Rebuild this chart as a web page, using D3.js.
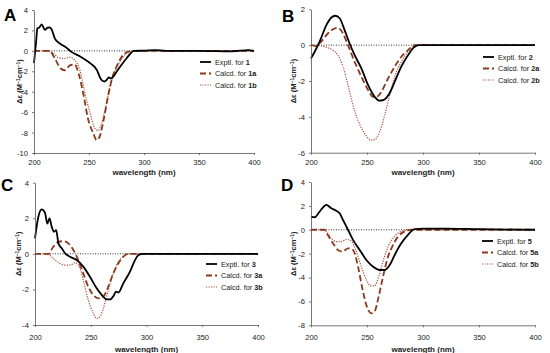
<!DOCTYPE html>
<html>
<head>
<meta charset="utf-8">
<script src="https://cdn.jsdelivr.net/npm/d3@7"></script>
<style>
  body { margin: 0; background: #fff; }
  svg { display: block; font-family: "Liberation Sans", Arial, sans-serif; }
</style>
</head>
<body>
<svg id="canvas" width="550" height="353"></svg>
<script>
// wavelength (nm), delta epsilon
var exptA = [[200,-1.2],[202,1.0],[203,2.2],[205,2.3],[207,2.6],[209,2.2],[210,2.05],[212,2.25],[214,2.3],[216,2.1],[219,1.2],[223,0.75],[229,0.35],[234,-0.1],[242,-0.55],[249,-1.05],[257,-1.85],[261,-2.8],[264,-3.0],[266,-2.85],[268,-2.6],[270,-2.7],[276,-1.9],[284,-0.75],[291,0],[300,0.02],[310,0.08],[320,0],[350,0],[380,-0.05],[395,0.08],[400,0]];
var calcA1a = [[200,0],[214,0],[219,-0.75],[224,-1.7],[228,-1.9],[233,-1.4],[237,-1.35],[241,-2.4],[245,-4.3],[249,-6.6],[254,-8.1],[257,-8.75],[260,-8.3],[263.6,-6.6],[267.6,-4.3],[271.5,-2.5],[275.7,-1.4],[281,-0.4],[287,-0.05],[292,0],[400,0]];
var calcA1b = [[200,0],[211,0],[217.6,-0.25],[222,-0.65],[227,-0.75],[232.7,-0.62],[237,-0.9],[242,-2.0],[246,-4.0],[251,-6.1],[255.5,-7.6],[258.5,-7.8],[261.5,-7.1],[265.5,-5.3],[269,-3.5],[273.6,-2.0],[280,-0.75],[287,-0.05],[292,0],[400,0]];

var exptB = [[200,-0.74],[203.3,-0.37],[207.7,0.19],[213.7,1.12],[218,1.53],[221.7,1.64],[225.6,1.5],[230,0.84],[234.5,0.09],[239,-0.56],[245,-1.3],[251,-2.23],[257,-2.89],[261,-3.1],[265,-3.05],[270,-2.7],[274.7,-2.05],[280.6,-1.2],[286.6,-0.56],[292.6,-0.09],[297,0],[400,0]];
var calcB2a = [[200,0.02],[204,-0.05],[209,0.19],[215,0.65],[221,0.93],[224,0.97],[228.6,0.65],[233,0],[239,-0.93],[245,-1.77],[251,-2.5],[255.4,-2.89],[258.5,-2.89],[262.8,-2.6],[268.8,-1.86],[274.7,-1.2],[280.6,-0.65],[286.6,-0.28],[292.6,0],[400,0]];
var calcB2b = [[200,0],[208,-0.02],[212,-0.09],[219.6,-0.28],[224,-0.56],[228.6,-1.2],[233,-2.23],[237.5,-3.35],[242,-4.2],[248,-4.94],[253.8,-5.3],[256.7,-5.27],[261.3,-4.84],[265.8,-3.9],[270.3,-2.8],[274.7,-1.77],[280.6,-0.93],[286.6,-0.37],[292.6,-0.04],[298,0],[400,0]];

var exptC = [[200,0.87],[203,2.08],[206,2.5],[209,2.3],[211,1.7],[213,2.0],[215,1.52],[217,1.24],[219,1.33],[221,0.59],[224,0.31],[227,0.03],[231.4,-0.16],[237.4,-0.35],[243.3,-0.72],[249.3,-1.29],[255.3,-1.94],[259.8,-2.31],[264.3,-2.56],[267.3,-2.56],[270.9,-2.31],[272.7,-2.12],[274.7,-2.18],[279.2,-1.66],[285.2,-1.0],[289.7,-0.35],[292.7,-0.07],[297,0],[400,0]];
var calcC3a = [[200,0],[212,0],[216.4,0.4],[221,0.68],[225.4,0.71],[229.9,0.59],[234.4,0.22],[238.8,-0.35],[243.3,-1.1],[247.8,-1.85],[252.3,-2.31],[256.8,-2.5],[261.3,-2.4],[265.7,-1.85],[270.2,-1.1],[274.7,-0.54],[279.2,-0.16],[284,0],[400,0]];
var calcC3b = [[200,0],[208,0],[213.5,-0.1],[218,-0.35],[222.4,-0.54],[226.9,-0.63],[231.4,-0.63],[235.9,-0.5],[240.4,-0.82],[243.3,-1.48],[247.8,-2.6],[252.3,-3.35],[255.3,-3.63],[258.3,-3.55],[261.3,-3.07],[265.7,-2.04],[270.2,-1.1],[274.7,-0.45],[279.2,-0.16],[285,0],[400,0]];

var exptD = [[200,1.1],[203.3,1.05],[207.7,1.52],[213.7,2.08],[218.1,1.8],[222.6,1.6],[225.6,1.38],[228.6,0.82],[233,0],[237.5,-0.85],[243.5,-1.69],[249.4,-2.53],[255.4,-3.09],[261.3,-3.37],[265.8,-3.37],[270.3,-2.95],[274.7,-2.11],[280.6,-1.13],[286.6,-0.42],[292.6,0.05],[300,0.1],[320,0.1],[350,0.05],[400,0]];
var calcD5a = [[200,0],[212,0],[215,-0.44],[219.6,-1.13],[224,-1.69],[228.6,-1.83],[233,-1.55],[237.5,-1.69],[242,-3.09],[245.5,-4.76],[249.4,-6.3],[253.8,-7.0],[256.8,-6.84],[260.4,-5.6],[264.3,-3.93],[268.8,-2.25],[273.3,-1.27],[277.7,-0.56],[283.6,-0.14],[289.5,0],[400,0]];
var calcD5b = [[200,0],[210,0],[213.7,-0.14],[218,-0.7],[222.6,-1.0],[227,-1.0],[231.5,-0.8],[236,-0.95],[240.5,-1.83],[245,-3.09],[249.4,-4.2],[253.8,-4.7],[256.8,-4.7],[260.4,-3.93],[264.3,-2.67],[268.8,-1.41],[273.3,-0.7],[277.7,-0.28],[283.6,-0.06],[290,0],[400,0]];

var xTicks = [200, 250, 300, 350, 400];
var yTicksA = [4, 2, 0, -2, -4, -6, -8, -10];
var yTicksB = [2, 0, -2, -4, -6];
var yTicksC = [4, 2, 0, -2, -4];
var yTicksD = [4, 2, 0, -2, -4, -6, -8];
var compounds = [['1', '1a', '1b'], ['2', '2a', '2b'], ['3', '3a', '3b'], ['5', '5a', '5b']];

var panels = [
    { letter: 'A', lx: 4, ly: 21, left: 34, right: 254, top: 10, bottom: 153, dom: [-10, 4], ticks: yTicksA,
      series: [exptA, calcA1a, calcA1b], cmp: compounds[0], legX: 200, legY: 62, xlabY: 164.5, titleY: 175, ylabX: 22 },
    { letter: 'B', lx: 282, ly: 22, left: 311, right: 535, top: 9.3, bottom: 152.7, dom: [-6, 2], ticks: yTicksB,
      series: [exptB, calcB2a, calcB2b], cmp: compounds[1], legX: 483, legY: 57, xlabY: 164.5, titleY: 175, ylabX: 296 },
    { letter: 'C', lx: 1, ly: 191, left: 35, right: 258, top: 182.7, bottom: 325, dom: [-4, 4], ticks: yTicksC,
      series: [exptC, calcC3a, calcC3b], cmp: compounds[2], legX: 206, legY: 264, xlabY: 340, titleY: 351.5, ylabX: 21 },
    { letter: 'D', lx: 281, ly: 191, left: 311, right: 535, top: 182, bottom: 325.3, dom: [-8, 4], ticks: yTicksD,
      series: [exptD, calcD5a, calcD5b], cmp: compounds[3], legX: 482, legY: 241, xlabY: 340, titleY: 351.5, ylabX: 296 }
];

var styles = [
    { color: '#000', width: 1.8, dash: null },
    { color: '#8a3a1c', width: 1.8, dash: '6,3' },
    { color: '#a5503c', width: 1.2, dash: '1.2,1.3' }
];

var svg = d3.select('#canvas');

panels.forEach(function(p) {
    var x = d3.scaleLinear().domain([200, 400]).range([p.left, p.right]);
    var y = d3.scaleLinear().domain(p.dom).range([p.bottom, p.top]);
    var g = svg.append('g');

    // zero line
    g.append('line')
        .attr('x1', x(200)).attr('x2', x(400))
        .attr('y1', y(0)).attr('y2', y(0))
        .attr('stroke', '#000')
        .attr('stroke-width', 0.8)
        .attr('stroke-dasharray', '1,1.5');

    var line = d3.line()
        .x(function(d) { return x(d[0]); })
        .y(function(d) { return y(d[1]); })
        .curve(d3.curveMonotoneX);

    // draw calcd first, expt on top
    [2, 1, 0].forEach(function(i) {
        var s = styles[i];
        g.append('path')
            .datum(p.series[i])
            .attr('d', line)
            .attr('fill', 'none')
            .attr('stroke', s.color)
            .attr('stroke-width', s.width)
            .attr('stroke-dasharray', s.dash);
    });

    var xAxis = g.append('g')
        .attr('transform', 'translate(0,' + p.bottom + ')')
        .call(d3.axisBottom(x).tickValues(xTicks).tickSize(2).tickSizeOuter(0).tickPadding(p.xlabY - p.bottom - 7));
    var yAxis = g.append('g')
        .attr('transform', 'translate(' + p.left + ',0)')
        .call(d3.axisLeft(y).tickValues(p.ticks).tickSize(2).tickSizeOuter(0).tickPadding(4)
            .tickFormat(function(d) { return d < 0 ? '-' + Math.abs(d) : d; }));

    [xAxis, yAxis].forEach(function(a) {
        a.select('.domain').attr('stroke', '#555').attr('stroke-width', 0.8);
        a.selectAll('.tick line').attr('stroke', '#555').attr('stroke-width', 0.8);
        a.selectAll('.tick text').attr('font-size', 7.6).attr('fill', '#222')
            .attr('font-family', '"Liberation Sans", Arial, sans-serif');
    });

    g.append('text')
        .attr('x', (p.left + p.right) / 2)
        .attr('y', p.titleY)
        .attr('text-anchor', 'middle')
        .attr('font-size', 8)
        .attr('font-weight', 'bold')
        .attr('fill', '#222')
        .text('wavelength (nm)');

    var yl = g.append('text')
        .attr('transform', 'translate(' + p.ylabX + ',' + ((p.top + p.bottom) / 2) + ') rotate(-90)')
        .attr('text-anchor', 'middle')
        .attr('font-size', 7.5)
        .attr('font-weight', 'bold')
        .attr('fill', '#222');
    yl.append('tspan').text('\u0394\u03b5 (M');
    yl.append('tspan').attr('dy', -2.5).attr('font-size', 5).text('\u22121');
    yl.append('tspan').attr('dy', 2.5).text('cm');
    yl.append('tspan').attr('dy', -2.5).attr('font-size', 5).text('\u22121');
    yl.append('tspan').attr('dy', 2.5).text(')');

    g.append('text')
        .attr('x', p.lx).attr('y', p.ly)
        .attr('font-size', 17)
        .attr('font-weight', 'bold')
        .attr('fill', '#000')
        .text(p.letter);

    // legend
    var labels = ['Exptl. for ', 'Calcd. for ', 'Calcd. for '];
    labels.forEach(function(lab, i) {
        var ly = p.legY + i * 11.5;
        var s = styles[i];
        g.append('line')
            .attr('x1', p.legX).attr('x2', p.legX + 11)
            .attr('y1', ly).attr('y2', ly)
            .attr('stroke', s.color)
            .attr('stroke-width', s.width)
            .attr('stroke-dasharray', s.dash);
        var t = g.append('text')
            .attr('x', p.legX + 15).attr('y', ly + 2.5)
            .attr('font-size', 7.3)
            .attr('fill', '#222');
        t.append('tspan').text(lab);
        t.append('tspan').attr('font-weight', 'bold').text(p.cmp[i]);
    });
});
</script>
</body>
</html>
